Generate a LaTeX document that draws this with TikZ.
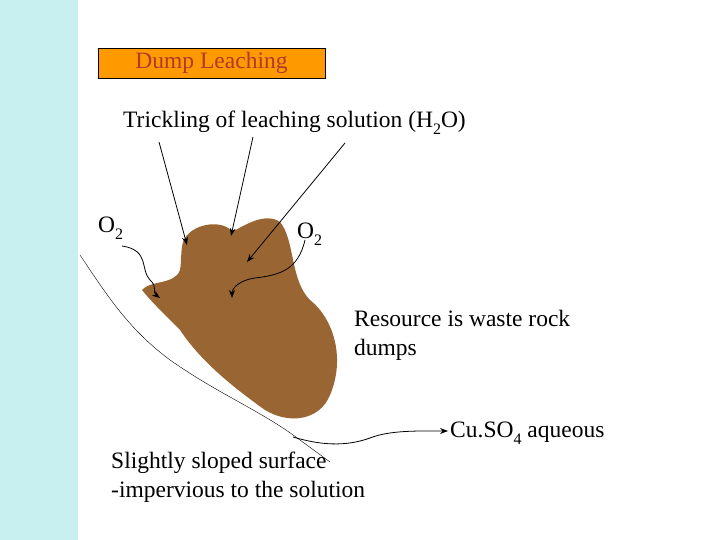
\documentclass[tikz,border=0pt]{standalone}
\usepackage{fontspec}
\setmainfont{Liberation Serif}
\usetikzlibrary{arrows.meta}
\definecolor{strip}{HTML}{C8F0F0}
\definecolor{rock}{HTML}{996633}
\definecolor{ttl}{HTML}{FF9900}
\definecolor{ttltext}{HTML}{B03A2E}
\newcommand{\mysub}[1]{\raisebox{-0.3em}{\fontsize{16}{16}\selectfont #1}}
\tikzset{lbl/.style={font=\fontsize{23.5}{29}\selectfont, inner sep=0pt, anchor=west},
 arr/.style={-{Stealth[length=8pt,width=6pt]}, thick}}
\begin{document}
\begin{tikzpicture}[x=1pt,y=-1pt]
\useasboundingbox (0,0) rectangle (720,540);
\fill[strip] (0,0) rectangle (78,540);
\node[draw, fill=ttl, minimum width=227pt, minimum height=30pt, text=ttltext, font=\fontsize{23.5}{24}\selectfont, inner sep=0pt] (title) at (211.5,63) {\raisebox{-2pt}{Dump Leaching}};
\node[lbl] (trick) at (123,123) {Trickling of leaching solution (H\mysub{2}O)};
\node[lbl] (o1) at (98,228) {O\mysub{2}};
\node[lbl] (o2) at (297,234) {O\mysub{2}};
\node[lbl, align=left] (res) at (354,335) {Resource is waste rock\\dumps};
\node[lbl] (cu) at (450,433) {Cu.SO\mysub{4} aqueous};
\node[lbl, align=left] (slope) at (111,477) {Slightly sloped surface\\-impervious to the solution};
\fill[rock] (185,238) .. controls (195,222) and (225,220) .. (232,232)
  .. controls (245,225) and (265,212) .. (280,222)
  .. controls (295,240) and (290,280) .. (310,300)
  .. controls (335,320) and (345,360) .. (330,395)
  .. controls (320,420) and (290,425) .. (265,410)
  .. controls (230,385) and (200,360) .. (180,330)
  .. controls (160,310) and (150,300) .. (142,290)
  .. controls (150,280) and (175,285) .. (180,270)
  .. controls (182,260) and (180,245) .. (185,238) -- cycle;
\coordinate (g0) at (80,255);
\draw (g0) .. controls (110,300) and (130,330) .. (170,360)
  .. controls (220,395) and (260,410) .. (300,440) -- (330,462);
\coordinate (a1) at (159,142);
\coordinate (a1e) at (187,245);
\coordinate (a2) at (253,137);
\coordinate (a2e) at (231,236);
\coordinate (a3) at (345,143);
\coordinate (a3e) at (247,262);
\draw[arr] (a1) -- (a1e);
\draw[arr] (a2) -- (a2e);
\draw[arr] (a3) -- (a3e);
\coordinate (b1) at (122,246);
\coordinate (b1e) at (160,298);
\draw[arr] (b1) .. controls (150,250) and (140,270) .. (150,280) .. controls (158,287) and (152,292) .. (b1e);
\coordinate (b2) at (305,240);
\coordinate (b2e) at (232,298);
\draw[arr] (b2) .. controls (298,270) and (280,275) .. (255,278) .. controls (240,280) and (232,288) .. (b2e);
\coordinate (c1) at (293,437);
\coordinate (c1e) at (448,431);
\draw[arr] (c1) .. controls (320,445) and (345,447) .. (370,438) .. controls (390,430) and (420,431) .. (c1e);
\end{tikzpicture}
\end{document}
